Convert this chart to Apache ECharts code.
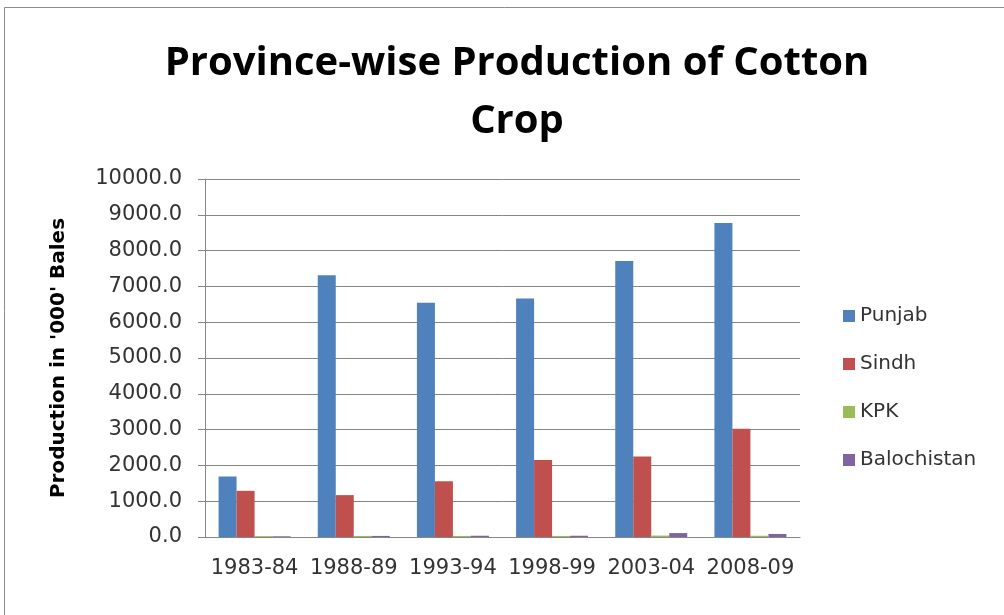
<!DOCTYPE html>
<html>
<head>
<meta charset="utf-8">
<title>Province-wise Production of Cotton Crop</title>
<script src="https://cdn.jsdelivr.net/npm/echarts@6/dist/echarts.min.js"></script>
<style>
  html, body { margin: 0; padding: 0; background: #fff; }
  #chart { width: 1004px; height: 615px; }
</style>
</head>
<body>
<div id="chart"></div>
<script>
// values ('000' bales)
const years = ['1983-84', '1988-89', '1993-94', '1998-99', '2003-04', '2008-09'];
const punjab = [1690, 7310, 6545, 6660, 7710, 8770];
const sindh = [1290, 1170, 1560, 2150, 2250, 3025];
const kpk = [25, 30, 30, 30, 40, 35];
const balochistan = [20, 30, 35, 35, 110, 85];
const yTicks = { min: 0, max: 10000, interval: 1000 };

const chart = echarts.init(document.getElementById('chart'));

const labelFont = 'DejaVu Sans';

function bar(name, data, color) {
  return {
    name: name,
    type: 'bar',
    data: data,
    barWidth: 18,
    barGap: '0%',
    itemStyle: { color: color }
  };
}

let option = {
  backgroundColor: '#fff',
  animation: false,
  graphic: [{
    type: 'rect',
    shape: { x: 4.5, y: 7.5, width: 1100, height: 700 },
    style: { fill: 'none', stroke: '#8c8c8c', lineWidth: 1 }
  }],
  title: {
    text: 'Province-wise Production of Cotton\nCrop',
    left: 512,
    top: 30,
    textAlign: 'center',
    textStyle: {
      fontFamily: 'Open Sans',
      fontWeight: 'bold',
      fontSize: 40,
      lineHeight: 58,
      color: '#000'
    }
  },
  legend: {
    orient: 'vertical',
    left: 838,
    top: 301,
    itemWidth: 12,
    itemHeight: 12,
    itemGap: 28,
    icon: 'rect',
    textStyle: { fontFamily: labelFont, fontSize: 20, color: '#333' },
    data: ['Punjab', 'Sindh', 'KPK', 'Balochistan']
  },
  grid: { left: 205, top: 179, right: 204, bottom: 78, containLabel: false },
  xAxis: {
    type: 'category',
    data: years,
    axisLine: { lineStyle: { color: '#868686' } },
    axisTick: { show: false },
    axisLabel: { interval: 0, fontFamily: labelFont, fontSize: 21, color: '#333', margin: 21 }
  },
  yAxis: {
    type: 'value',
    min: yTicks.min,
    max: yTicks.max,
    interval: yTicks.interval,
    name: "Production in '000' Bales",
    nameLocation: 'middle',
    nameGap: 136,
    nameTextStyle: { fontFamily: labelFont, fontWeight: 'bold', fontSize: 20, color: '#000' },
    axisLine: { show: true, lineStyle: { color: '#868686' } },
    axisTick: { show: true, length: 7, lineStyle: { color: '#868686' } },
    axisLabel: {
      fontFamily: labelFont, fontSize: 21, color: '#333', margin: 23,
      formatter: v => v.toFixed(1)
    },
    splitLine: { lineStyle: { color: '#868686', width: 1 } }
  },
  series: [
    bar('Punjab', punjab, '#4f81bd'),
    bar('Sindh', sindh, '#c0504d'),
    bar('KPK', kpk, '#9bbb59'),
    bar('Balochistan', balochistan, '#8064a2')
  ]
};

option && chart.setOption(option);
</script>
</body>
</html>
